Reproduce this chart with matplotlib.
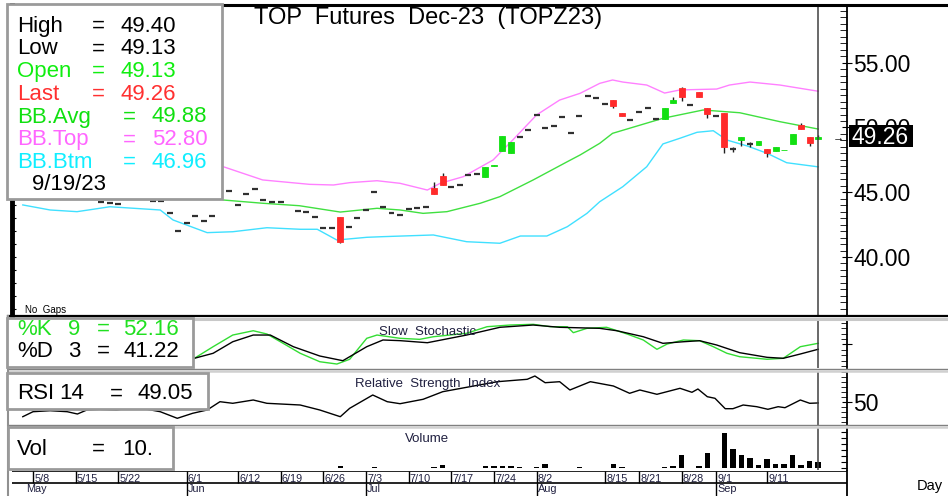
import numpy as np
import matplotlib
matplotlib.use("Agg")
import matplotlib.pyplot as plt
from matplotlib.patches import Rectangle
from matplotlib.lines import Line2D
from matplotlib.ticker import MultipleLocator, FixedLocator, FormatStrFormatter

plt.rcParams["font.family"] = ["Liberation Sans", "DejaVu Sans"]

W, H = 948, 496

# ---- data (x = trading-day index, 93 = 9/19/23) ----
day_ticks = [1, 6, 11, 19, 25, 30, 35, 40, 45, 50, 55, 60, 68, 72, 77, 81, 87]
day_labels = ["5/8", "5/15", "5/22", "6/1", "6/12", "6/19", "6/26", "7/3", "7/10",
              "7/17", "7/24", "8/2", "8/15", "8/21", "8/28", "9/1", "9/11"]
month_ticks = [0, 19, 40, 60, 81]
month_labels = ["May", "Jun", "Jul", "Aug", "Sep"]

bar_idx = [9, 10, 11, 15, 16, 17, 18, 19, 20, 21, 22, 24, 25, 26, 27, 28, 29, 30,
           32, 33, 34, 35, 36, 37, 38, 39, 40, 41, 42, 43, 44, 45, 46, 47, 48, 49,
           50, 51, 52, 53, 54, 55, 56, 57, 58, 59, 60, 61, 62, 63, 64, 65, 66, 67,
           68, 69, 70, 71, 72, 73, 74, 75, 76, 77, 78, 79, 80, 81, 82, 83, 84, 85,
           86, 87, 88, 89, 90, 91, 92, 93]
bar_open = [44.25, 44.20, 44.10, 44.35, 44.35, 43.37, 42.00, 42.65, 43.17, 42.78, 43.17, 45.07, 43.99, 44.84, 45.23, 44.40, 44.22, 44.22,
            43.55, 43.47, 43.07, 42.26, 42.26, 43.10, 42.34, 42.99, 43.63, 45.04, 43.83, 43.42, 43.24, 43.70, 43.80, 43.88, 45.31, 46.25,
            45.38, 45.56, 46.33, 46.38, 46.20, 47.06, 48.21, 48.00, 49.29, 49.80, 50.97, 49.99, 50.14, 50.79, 49.60, 50.89, 52.43, 52.25,
            51.84, 52.12, 51.10, 50.58, 51.22, 51.50, 50.63, 50.63, 51.87, 53.03, 51.76, 52.74, 51.50, 50.91, 51.15, 48.36, 49.03, 48.73,
            48.65, 48.34, 48.21, 48.24, 48.73, 50.17, 49.27, 49.13]
bar_high = [44.25, 44.20, 44.10, 44.35, 44.35, 43.37, 42.00, 42.65, 43.17, 42.78, 43.17, 45.07, 43.99, 44.84, 45.23, 44.40, 44.22, 44.22,
            43.55, 43.47, 43.07, 42.26, 42.26, 43.10, 42.34, 42.99, 43.63, 45.04, 43.83, 43.42, 43.24, 43.70, 43.80, 43.88, 45.81, 46.50,
            45.38, 45.56, 46.33, 46.38, 46.93, 47.12, 49.34, 48.90, 49.29, 49.80, 50.97, 49.99, 50.14, 50.79, 49.60, 50.89, 52.43, 52.25,
            51.84, 52.12, 51.10, 50.58, 51.22, 51.50, 50.63, 51.53, 52.33, 53.15, 51.76, 52.74, 51.50, 50.91, 51.15, 48.52, 49.24, 48.88,
            48.96, 48.34, 48.47, 48.28, 49.50, 50.38, 49.27, 49.40]
bar_low = [44.25, 44.20, 44.10, 44.35, 44.35, 43.37, 42.00, 42.65, 43.17, 42.78, 43.17, 45.07, 43.99, 44.84, 45.23, 44.40, 44.22, 44.22,
           43.55, 43.47, 43.07, 42.26, 42.26, 41.10, 42.34, 42.99, 43.63, 45.04, 43.83, 43.42, 43.24, 43.70, 43.80, 43.88, 44.84, 45.56,
           45.38, 45.56, 46.33, 46.38, 46.20, 47.06, 48.21, 48.00, 49.29, 49.80, 50.97, 49.99, 50.14, 50.79, 49.60, 50.89, 52.43, 52.25,
           51.84, 51.48, 50.89, 50.58, 51.22, 51.50, 50.63, 50.63, 51.87, 52.05, 51.76, 52.38, 50.70, 50.91, 48.00, 48.13, 48.57, 48.47,
           48.65, 47.70, 48.21, 48.24, 48.73, 49.88, 48.57, 49.13]
bar_close = [44.25, 44.20, 44.10, 44.35, 44.35, 43.37, 42.00, 42.65, 43.17, 42.78, 43.17, 45.07, 43.99, 44.84, 45.23, 44.40, 44.22, 44.22,
             43.55, 43.47, 43.07, 42.26, 42.26, 41.15, 42.34, 42.99, 43.63, 45.04, 43.83, 43.42, 43.24, 43.70, 43.80, 43.88, 44.84, 45.56,
             45.38, 45.56, 46.33, 46.38, 46.93, 47.12, 49.34, 48.90, 49.29, 49.80, 50.97, 49.99, 50.14, 50.79, 49.60, 50.89, 52.43, 52.25,
             51.84, 51.68, 50.89, 50.58, 51.22, 51.50, 50.63, 51.53, 52.12, 52.38, 51.76, 52.38, 51.04, 50.91, 48.52, 48.36, 49.24, 48.73,
             48.96, 48.00, 48.47, 48.28, 49.50, 49.88, 48.78, 49.26]

bb_top_x = [23.3, 27.9, 33.4, 36.2, 38.1, 41.3, 44.0, 47.2, 48.7, 51.4, 54.9, 55.7, 57.2, 60.0,
            62.7, 65.1, 67.4, 68.9, 70.1, 72.9, 75.0, 76.8, 81.1, 82.6, 85.0, 88.5, 93.0]
bb_top = [46.97, 45.95, 45.61, 45.56, 45.74, 45.89, 45.69, 45.17, 45.69, 46.20, 47.49, 48.03, 49.03, 50.97,
          52.12, 52.64, 53.41, 53.67, 53.51, 53.28, 52.66, 52.90, 52.97, 53.28, 53.51, 53.28, 52.80]
bb_avg_x = [23.3, 27.9, 32.2, 37.0, 41.3, 44.0, 46.7, 49.5, 53.4, 55.7,
            59.6, 63.6, 65.1, 67.4, 68.9, 74.8, 79.5, 83.8, 88.5, 93.0]
bb_avg = [44.40, 44.15, 43.96, 43.47, 43.76, 43.63, 43.37, 43.50, 44.15, 44.66,
          45.95, 47.36, 47.88, 48.78, 49.55, 50.71, 51.35, 51.14, 50.45, 49.88]
bb_btm_x = [-0.2, 3.0, 6.15, 8.0, 10.0, 15.9, 17.4, 21.4, 24.4, 28.4, 32.3, 34.3, 36.6, 40.1, 42.0, 47.9, 51.8,
            55.7, 58.1, 61.2, 63.6, 65.9, 67.4, 70.1, 72.9, 74.8, 76.8, 78.8, 80.7, 82.3, 84.7, 87.0, 89.3, 93.0]
bb_btm = [44.02, 43.63, 43.50, 43.68, 43.88, 43.63, 42.86, 41.88, 41.95, 42.26, 42.14, 42.14, 41.31, 41.52, 41.57, 41.70, 41.18,
          41.06, 41.62, 41.62, 42.34, 43.37, 44.27, 45.43, 46.97, 48.73, 49.17, 49.63, 49.75, 49.03, 48.57, 48.01, 47.28, 46.96]

stoch_k_x = [19.9, 22.1, 24.4, 26.8, 28.4, 30.3, 32.3, 34.6, 36.6, 38.1, 40.1, 41.3, 44.0, 46.3, 47.9, 51.8, 54.2, 56.9, 59.6,
             61.6, 63.6, 64.3, 65.9, 68.2, 70.6, 72.5, 74.1, 75.3, 77.2, 79.1, 80.7, 82.3, 83.8, 87.0, 88.9, 90.9, 93.0]
stoch_k = [24.6, 45.9, 67.3, 75.2, 69.2, 52.1, 33.8, 18.3, 14.1, 22.8, 61.3, 67.3, 61.3, 59.4, 64.2, 70.5, 82.6, 85.7, 87.0,
           82.6, 82.6, 71.6, 79.6, 81.5, 69.2, 58.2, 41.1, 50.8, 58.2, 56.9, 45.9, 33.8, 27.5, 22.8, 24.6, 45.9, 52.16]
stoch_d_x = [19.9, 22.1, 24.4, 26.8, 28.8, 31.5, 34.6, 37.3, 40.1, 42.0, 44.0, 47.2, 51.8, 55.7,
             59.6, 62.7, 67.4, 69.4, 72.5, 74.8, 77.2, 79.1, 81.1, 83.8, 87.0, 88.9, 90.9, 93.0]
stoch_d = [24.6, 33.8, 55.0, 67.3, 67.3, 45.9, 28.8, 20.2, 45.9, 58.2, 57.0, 53.2, 67.3, 81.5,
           85.7, 81.5, 79.6, 75.2, 64.2, 52.1, 55.0, 56.9, 49.0, 34.9, 26.4, 24.6, 32.5, 41.22]

rsi_x = [-0.2, 1.0, 3.0, 5.0, 6.2, 7.3, 8.8, 10.8, 12.7, 14.35, 15.9, 17.9, 19.7, 21.4, 22.9, 24.4, 26.8, 28.4,
         32.3, 34.6, 37.0, 38.1, 40.8, 42.5, 44.0, 46.7, 49.0, 51.8, 55.4, 58.9, 59.8, 61.0, 62.7, 63.9, 66.3, 69.0,
         70.9, 72.1, 74.1, 76.8, 78.2, 78.9, 80.0, 80.9, 82.1, 83.0, 84.2, 85.8, 87.1, 88.3, 89.1, 90.9, 92.0, 93.0]
rsi = [35.3, 40.3, 41.3, 40.3, 38.0, 42.0, 42.7, 42.0, 44.7, 42.7, 40.3, 33.7, 38.7, 42.0, 50.3, 48.7, 52.0, 48.7,
       47.0, 42.0, 35.3, 43.7, 57.0, 50.3, 48.3, 52.7, 60.3, 64.7, 70.3, 72.7, 76.0, 69.3, 70.3, 62.0, 70.3, 66.0,
       58.7, 62.0, 57.7, 63.7, 59.7, 63.0, 55.3, 53.7, 43.3, 43.3, 47.0, 45.3, 42.7, 45.3, 44.3, 52.0, 48.7, 49.05]

vol_idx = [37, 41, 48, 49, 54, 55, 56, 57, 58, 60, 61, 65, 69, 70, 75, 76, 77, 79, 80,
           82, 83, 84, 85, 86, 87, 88, 89, 90, 91, 92, 93]
vol = [4, 2, 3, 5, 4, 4, 4, 4, 3, 3, 7, 3, 8, 3, 3, 4, 22, 4, 25,
       59, 32, 22, 18, 5, 15, 7, 7, 22, 5, 12, 10]

price_ticks = [40, 45, 50, 55]
last_price = "49.26"
price_legend = [("High", "49.40", "black"), ("Low", "49.13", "black"),
                ("Open", "49.13", "#10ee10"), ("Last", "49.26", "#ff3030"),
                ("BB.Avg", "49.88", "#10e010"), ("BB.Top", "52.80", "#ff66ff"),
                ("BB.Btm", "46.96", "#10eeff")]
legend_date = "9/19/23"
stoch_legend = [("%K", "9", "52.16", "#20e020"), ("%D", "3", "41.22", "black")]
rsi_legend = ("RSI", "14", "49.05")
vol_legend = ("Vol", "10.")

RED = "#ff2b2b"
GREEN = "#12e012"
PINK = "#ff80ff"
MIDGREEN = "#40e040"
CYAN = "#40e0ff"
XL = ((12 - 24.5) / 8.535, (847 - 24.5) / 8.535)

fig = plt.figure(figsize=(W / 100, H / 100), dpi=100)
fig.patch.set_facecolor("white")


def px_axes(x0, y0, x1, y1):
    return fig.add_axes([x0 / W, 1 - y1 / H, (x1 - x0) / W, (y1 - y0) / H])


def fig_line(x0, x1, y0, y1, **kw):
    fig.add_artist(Line2D([x0 / W, x1 / W], [1 - y0 / H, 1 - y1 / H],
                          transform=fig.transFigure, **kw))


def fig_text(x, y, s, **kw):
    kw.setdefault("zorder", 8)
    return fig.text(x / W, 1 - y / H, s, **kw)


def fig_box(x0, y0, x1, y1, **kw):
    fig.add_artist(Rectangle((x0 / W, 1 - y1 / H), (x1 - x0) / W, (y1 - y0) / H,
                             transform=fig.transFigure, **kw))


def clean(ax):
    for s in ax.spines.values():
        s.set_visible(False)
    ax.set_xlim(*XL)
    ax.set_xticks([])
    ax.patch.set_alpha(0)


# ---- price panel ----
ax = px_axes(12, 5, 847, 315)
clean(ax)
ax.set_ylim(35.52, 59.46)
ax.spines["left"].set_visible(True)
ax.spines["left"].set_linewidth(3.5)
ax.yaxis.set_major_locator(MultipleLocator(1))
ax.tick_params(axis="y", left=True, right=False, direction="in", length=3, labelleft=False)

ax.plot(bb_top_x, bb_top, color=PINK, lw=1.0, zorder=2)
ax.plot(bb_avg_x, bb_avg, color=MIDGREEN, lw=1.0, zorder=2)
ax.plot(bb_btm_x, bb_btm, color=CYAN, lw=1.0, zorder=2)

bi = np.array(bar_idx, float)
o = np.array(bar_open)
hi = np.array(bar_high)
lo = np.array(bar_low)
c = np.array(bar_close)
up = c > o
dn = c < o
flat = c == o
ax.vlines(bi, lo, hi, color="#202020", lw=1.0, zorder=3)
ax.bar(bi[up], (c - o)[up], bottom=o[up], width=0.7, color=GREEN, edgecolor=GREEN, lw=0.6, zorder=4)
ax.bar(bi[dn], (o - c)[dn], bottom=c[dn], width=0.7, color=RED, edgecolor=RED, lw=0.6, zorder=4)
ax.hlines(c[flat], bi[flat] - 0.35, bi[flat] + 0.35, color="#303030", lw=1.6, zorder=4)
ax.axvline(93, color="#404040", lw=1.1, zorder=5)

ax2 = ax.twinx()
ax2.set_ylim(35.52, 59.46)
for s in ["top", "bottom", "left"]:
    ax2.spines[s].set_visible(False)
ax2.spines["right"].set_linewidth(1.3)
ax2.yaxis.set_major_locator(FixedLocator(price_ticks))
ax2.yaxis.set_major_formatter(FormatStrFormatter("%.2f"))
ax2.yaxis.set_minor_locator(MultipleLocator(0.5))
ax2.tick_params(which="major", direction="inout", length=7, pad=1, labelsize=16.5)
ax2.tick_params(which="minor", direction="in", length=5)

# ---- stochastic ----
ax_s = px_axes(12, 320, 847, 368)
clean(ax_s)
ax_s.set_ylim(6.8, 94.9)
ax_s.plot(stoch_k_x, stoch_k, color="#33dd33", lw=1.0)
ax_s.plot(stoch_d_x, stoch_d, color="black", lw=1.0)
ax_s.axvline(93, color="#404040", lw=1.1)
ax_s.spines["right"].set_visible(True)
ax_s.spines["right"].set_linewidth(1.3)
ax_s.yaxis.tick_right()
ax_s.yaxis.set_major_locator(FixedLocator([50]))
ax_s.yaxis.set_minor_locator(MultipleLocator(10))
ax_s.tick_params(which="major", direction="inout", length=7, labelright=False)
ax_s.tick_params(which="minor", direction="in", length=4)

# ---- RSI ----
ax_r = px_axes(12, 372, 847, 425)
clean(ax_r)
ax_r.set_ylim(27, 80)
ax_r.plot(rsi_x, rsi, color="black", lw=1.0)
ax_r.axvline(93, color="#404040", lw=1.1)
ax_r.spines["right"].set_visible(True)
ax_r.spines["right"].set_linewidth(1.3)
ax_r.yaxis.tick_right()
ax_r.yaxis.set_major_locator(FixedLocator([50]))
ax_r.yaxis.set_minor_locator(MultipleLocator(5))
ax_r.tick_params(which="major", direction="inout", length=7, pad=1, labelsize=16.5)
ax_r.tick_params(which="minor", direction="in", length=4)

# ---- volume ----
ax_v = px_axes(12, 428, 847, 470)
clean(ax_v)
ax_v.set_ylim(-2.8, 67.2)
ax_v.bar(vol_idx, vol, width=0.65, color="black")
ax_v.axvline(93, color="#404040", lw=1.1)
ax_v.spines["right"].set_visible(True)
ax_v.spines["right"].set_linewidth(1.3)
ax_v.yaxis.tick_right()
ax_v.yaxis.set_major_locator(MultipleLocator(10))
ax_v.tick_params(direction="in", length=4, labelright=False)

# ---- date strip ----
ax_d = px_axes(12, 471, 847, 496)
clean(ax_d)
ax_d.set_ylim(0, 1)
ax_d.spines["right"].set_visible(True)
ax_d.spines["right"].set_linewidth(1.3)
ax_d.set_yticks([])
ax_d.axhline(1, color="black", lw=1.2)
ax_d.axhline(0.52, color="black", lw=1.2)
ax_d.vlines(day_ticks, 0.52, 1, color="black", lw=1.0)
ax_d.vlines(month_ticks[1:], 0, 0.52, color="black", lw=1.0)
for t, lab in zip(day_ticks, day_labels):
    ax_d.text(t + 0.15, 0.56, lab, fontsize=7.8, color="#202040", va="baseline")
for t, lab in zip(month_ticks, month_labels):
    ax_d.text(t + 0.15, 0.14, lab, fontsize=7.8, color="#202040", va="baseline")

# ---- frame lines / separators ----
fig_line(222, 948, 5, 5, color="black", lw=2.2)
fig_line(8, 948, 316, 316, color="black", lw=1.6)
fig_line(8, 948, 318.5, 318.5, color="#c8c8c8", lw=2.2)
fig_line(8, 948, 369, 369, color="#808080", lw=1.0)
fig_line(8, 948, 371, 371, color="#d0d0d0", lw=1.8)
fig_line(8, 948, 425, 425, color="#808080", lw=1.0)
fig_line(8, 948, 427, 427, color="#d0d0d0", lw=1.8)
fig_line(7.5, 7.5, 316, 496, color="#909090", lw=1.5)

# ---- titles / captions ----
fig_text(428, 24, "TOP  Futures  Dec-23  (TOPZ23)", fontsize=17, ha="center", va="baseline")
fig_text(25, 313, "No  Gaps", fontsize=7, va="baseline")
fig_text(428, 335, "Slow  Stochastic", fontsize=9.5, ha="center", va="baseline", color="#202040")
fig_text(428, 387, "Relative  Strength  Index", fontsize=9.5, ha="center", va="baseline", color="#202040")
fig_text(427, 442, "Volume", fontsize=9.5, ha="center", va="baseline", color="#202040")
fig_text(917, 490, "Day", fontsize=10.5, va="baseline")

# last price marker
fig_box(849, 125, 913, 147, facecolor="black", edgecolor="none", zorder=7)
fig_text(851, 143.5, last_price, fontsize=16.5, color="white", va="baseline")
fig_text(833, 140, "\u2192", fontsize=8, va="baseline")

# ---- legend boxes ----
FS = 16
fig_box(7, 4, 222, 199, facecolor="white", edgecolor="#9a9a9a", lw=2, zorder=6)
for k, (name, val, col) in enumerate(price_legend):
    yb = 31.7 + 22.7 * k
    xe, xv = (92, 120) if k < 4 else (123, 152)
    fig_text(17, yb, name, fontsize=FS, color=col, va="baseline")
    fig_text(xe, yb, "=", fontsize=FS, color=col, va="baseline")
    fig_text(xv, yb, val, fontsize=FS, color=col, va="baseline")
fig_text(32, 190.4, legend_date, fontsize=FS, va="baseline")

fig_box(7, 318, 193, 367, facecolor="white", edgecolor="#9a9a9a", lw=2, zorder=6)
for k, (name, per, val, col) in enumerate(stoch_legend):
    yb = 335 + 21.7 * k
    for xx, s in [(17, name), (68, per), (97, "="), (123, val)]:
        t = fig_text(xx, yb, s, fontsize=FS, color=col, va="baseline")
        t.set_clip_box(ax_s.bbox)
        t.set_clip_on(True)

fig_box(7, 373, 208, 409, facecolor="white", edgecolor="#9a9a9a", lw=2, zorder=6)
for xx, s in [(17, rsi_legend[0]), (59, rsi_legend[1]), (110, "="), (138, rsi_legend[2])]:
    fig_text(xx, 399.3, s, fontsize=FS, va="baseline")

fig_box(8, 427, 173, 469, facecolor="white", edgecolor="#9a9a9a", lw=2, zorder=6)
for xx, s in [(17, vol_legend[0]), (92, "="), (122, vol_legend[1])]:
    fig_text(xx, 455, s, fontsize=FS, va="baseline")

fig.savefig("out.png", dpi=100)
